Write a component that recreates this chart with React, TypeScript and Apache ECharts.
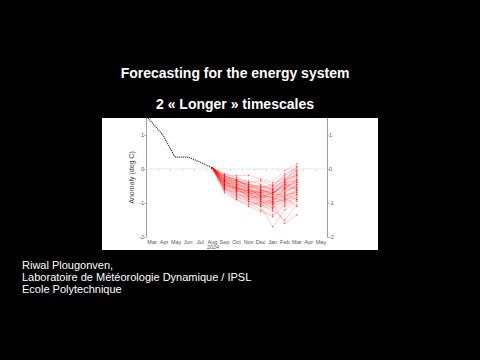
import React, { useEffect, useRef } from "react";
import * as echarts from "echarts";

const months = ["Mar", "Apr", "May", "Jun", "Jul", "Aug", "Sep", "Oct", "Nov", "Dec", "Jan", "Feb", "Mar", "Apr", "May"];
const yearLabel = "2024";
const titleLine1 = "Forecasting for the energy system";
const titleLine2 = "2 « Longer » timescales";
const authorLines = ["Riwal Plougonven,", "Laboratoire de Météorologie Dynamique / IPSL", "Ecole Polytechnique"];
const yAxisName = "Anomaly (deg C)";

// observed anomaly, x in month units from start of March
const obsX = [0.17, 1.4, 2.4, 3.5, 4.5, 5.5];
const obsY = [1.5, 1.0, 0.35, 0.35, 0.2, 0.03];

// ensemble forecast: start (Aug) then Sep..Mar monthly means
const ensStartX = 5.5;
const ensStartY = 0.03;
const ensX = [6.5, 7.5, 8.5, 9.5, 10.5, 11.5, 12.5];
const ensembleMembers: number[][] = [
  [-0.15, -0.2, -0.18, -0.3, -0.4, -0.05, 0.15],
  [-0.25, -0.35, -0.45, -0.55, -0.5, -0.2, 0.08],
  [-0.3, -0.45, -0.6, -0.7, -0.95, -0.6, -0.3],
  [-0.45, -0.6, -0.8, -0.95, -1.1, -0.85, -0.6],
  [-0.55, -0.8, -0.95, -1.1, -1.7, -1.2, -0.95],
  [-0.2, -0.3, -0.55, -0.8, -1.0, -1.6, -1.35],
  [-0.35, -0.55, -0.7, -0.6, -0.75, -0.45, -0.2],
  [-0.4, -0.5, -0.65, -0.85, -0.8, -0.7, -0.5],
  [-0.6, -0.85, -1.0, -1.2, -1.35, -1.05, -0.8],
  [-0.25, -0.3, -0.35, -0.45, -0.6, -0.3, -0.05],
  [-0.5, -0.7, -0.9, -0.75, -0.85, -0.55, -0.4],
  [-0.3, -0.4, -0.5, -0.65, -0.55, -0.35, -0.15],
  [-0.65, -0.9, -1.05, -1.0, -1.15, -0.9, -0.7],
  [-0.35, -0.6, -0.75, -0.9, -1.0, -0.75, -0.9],
  [-0.2, -0.35, -0.4, -0.6, -0.7, -0.5, -0.25],
  [-0.45, -0.55, -0.6, -0.7, -0.65, -0.85, -1.1],
  [-0.3, -0.5, -0.85, -1.05, -1.2, -1.5, -1.05],
  [-0.55, -0.65, -0.7, -0.8, -0.9, -0.6, -0.55],
  [-0.15, -0.25, -0.4, -0.35, -0.5, -0.15, 0.0],
  [-0.4, -0.45, -0.55, -0.5, -0.6, -0.4, -0.35],
  [-0.5, -0.75, -0.8, -0.95, -1.05, -0.8, -0.65],
  [-0.35, -0.4, -0.6, -0.75, -0.85, -0.95, -0.75],
  [-0.25, -0.45, -0.55, -0.7, -0.75, -0.4, -0.1],
  [-0.6, -0.7, -0.9, -1.1, -0.95, -0.7, -0.45],
  [-0.45, -0.65, -0.75, -0.85, -0.7, -0.55, -0.3],
  [-0.3, -0.35, -0.5, -0.55, -0.45, -0.25, -0.05],
  [-0.7, -0.9, -1.1, -1.25, -1.4, -1.1, -0.9],
  [-0.4, -0.6, -0.65, -0.8, -0.95, -0.65, -0.5],
  [-0.2, -0.4, -0.45, -0.65, -0.8, -0.55, -0.35],
  [-0.5, -0.6, -0.75, -0.65, -0.7, -0.45, -0.6],
  [-0.35, -0.5, -0.7, -0.9, -1.05, -0.8, -0.55],
  [-0.55, -0.75, -0.85, -1.0, -0.9, -0.75, -0.7],
  [-0.25, -0.35, -0.45, -0.5, -0.65, -0.45, -0.15],
  [-0.45, -0.55, -0.65, -0.75, -0.85, -0.6, -0.45],
  [-0.3, -0.45, -0.6, -0.8, -0.7, -0.5, -0.4],
  [-0.4, -0.65, -0.8, -0.85, -1.0, -0.9, -0.65],
  [-0.5, -0.55, -0.7, -0.95, -1.15, -0.95, -0.75],
  [-0.2, -0.3, -0.5, -0.6, -0.75, -0.35, 0.05],
  [-0.35, -0.55, -0.65, -0.7, -0.6, -0.3, -0.2],
  [-0.6, -0.8, -0.95, -1.05, -1.25, -1.0, -0.85],
];

const FONT = "Liberation Sans, Arial, sans-serif";

export default function App() {
  const ref = useRef<HTMLDivElement>(null);
  useEffect(() => {
    if (!ref.current) return;
    const chart = echarts.init(ref.current, undefined, { renderer: "svg" });

    const ensSeries = ensembleMembers.map((m) => ({
      type: "line",
      xAxisIndex: 1,
      yAxisIndex: 0,
      data: [[ensStartX, ensStartY], ...m.map((v, i) => [ensX[i], v])],
      symbol: "circle",
      symbolSize: 1.3,
      showSymbol: true,
      itemStyle: { color: "#ff0000", opacity: 0.7 },
      lineStyle: { color: "#ff0000", width: 0.5, opacity: 0.42 },
      silent: true,
      z: 3,
    }));

    const axisLabelStyle = { fontSize: 5.5, color: "#555", fontFamily: FONT };

    chart.setOption({
      animation: false,
      backgroundColor: "#000",
      grid: { left: 146, right: 153, top: 118, bottom: 123 },
      xAxis: [
        {
          type: "category",
          data: months,
          boundaryGap: true,
          position: "bottom",
          axisLine: { show: false },
          axisTick: { show: true, length: 2, lineStyle: { color: "#aaa", width: 0.5 } },
          axisLabel: { ...axisLabelStyle, margin: 2, interval: 0 },
          splitLine: { show: false },
        },
        {
          type: "value",
          min: 0,
          max: 15,
          show: false,
        },
      ],
      yAxis: [
        {
          type: "value",
          min: -2,
          max: 1.5,
          interval: 1,
          position: "left",
          name: yAxisName,
          nameLocation: "middle",
          nameGap: 10,
          nameTextStyle: { fontSize: 7, color: "#444", fontFamily: FONT },
          axisLine: { show: true, lineStyle: { color: "#888", width: 0.8 } },
          axisTick: { show: true, length: 2, lineStyle: { color: "#888", width: 0.6 } },
          axisLabel: { ...axisLabelStyle, margin: 2, showMaxLabel: false },
          splitLine: { show: false },
        },
        {
          type: "value",
          min: -2,
          max: 1.5,
          interval: 1,
          position: "right",
          axisLine: { show: true, lineStyle: { color: "#888", width: 0.8 } },
          axisTick: { show: true, length: 2, lineStyle: { color: "#888", width: 0.6 } },
          axisLabel: { ...axisLabelStyle, margin: 2, showMaxLabel: false },
          splitLine: { show: false },
        },
      ],
      graphic: [
        { type: "rect", z: -10, shape: { x: 102, y: 118, width: 276, height: 132 }, style: { fill: "#fff" } },
        {
          type: "text",
          x: 235,
          y: 73,
          style: { text: titleLine1, fill: "#fff", font: `bold 14px ${FONT}`, textAlign: "center", textVerticalAlign: "middle" },
        },
        {
          type: "text",
          x: 235,
          y: 104,
          style: { text: titleLine2, fill: "#fff", font: `bold 14px ${FONT}`, textAlign: "center", textVerticalAlign: "middle" },
        },
        {
          type: "text",
          x: 213,
          y: 246.5,
          style: { text: yearLabel, fill: "#555", font: `5.5px ${FONT}`, textAlign: "center", textVerticalAlign: "middle" },
        },
        ...authorLines.map((t, i) => ({
          type: "text",
          x: 22,
          y: 264.5 + i * 12,
          style: { text: t, fill: "#fff", font: `11px ${FONT}`, textAlign: "left", textVerticalAlign: "middle" },
        })),
      ],
      series: [
        {
          type: "line",
          xAxisIndex: 1,
          data: [[0, 0], [15, 0]],
          symbol: "none",
          lineStyle: { color: "#ddd", width: 0.8 },
          silent: true,
          z: 1,
        },
        ...ensSeries,
        {
          type: "line",
          xAxisIndex: 1,
          data: obsX.map((x, i) => [x, obsY[i]]),
          symbol: "none",
          lineStyle: { color: "#1a1a40", width: 1.2, type: [1, 1] },
          silent: true,
          z: 5,
        },
      ],
    });
    return () => chart.dispose();
  }, []);
  return <div ref={ref} style={{ width: 480, height: 360, position: "absolute", left: 0, top: 0 }} />;
}
